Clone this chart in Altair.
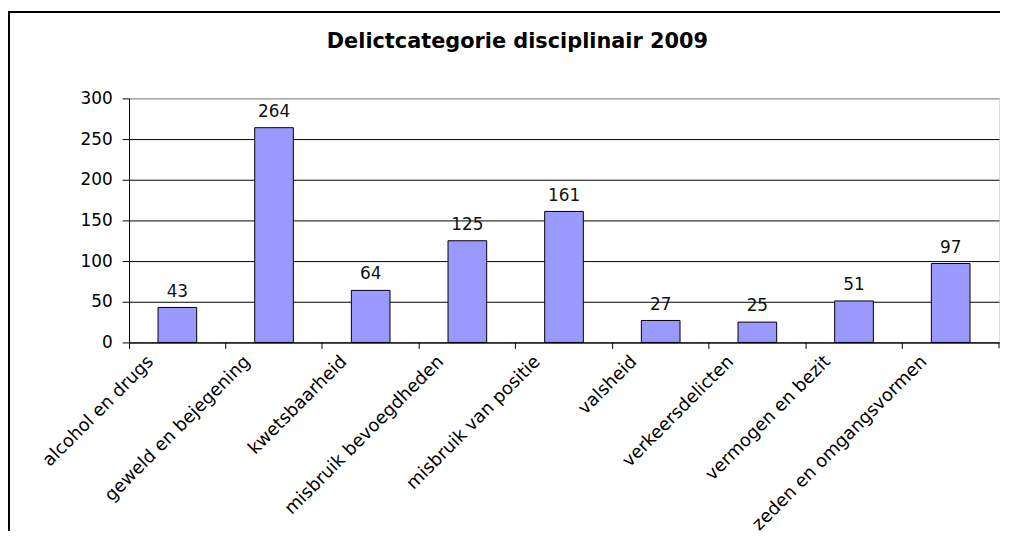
import altair as alt
import pandas as pd

categories = [
    "alcohol en drugs",
    "geweld en bejegening",
    "kwetsbaarheid",
    "misbruik bevoegdheden",
    "misbruik van positie",
    "valsheid",
    "verkeersdelicten",
    "vermogen en bezit",
    "zeden en omgangsvormen",
]
values = [43, 264, 64, 125, 161, 27, 25, 51, 97]
y_ticks = [0, 50, 100, 150, 200, 250, 300]
title_text = "Delictcategorie disciplinair 2009"

df = pd.DataFrame({"categorie": categories, "aantal": values})
one = pd.DataFrame({"k": [0]})

W, H = 877, 246
FONT = "DejaVu Sans"

x_enc = alt.X(
    "categorie:N",
    sort=categories,
    title=None,
    scale=alt.Scale(paddingInner=0, paddingOuter=0),
    axis=alt.Axis(
        bandPosition=0,
        labelAngle=-45,
        labelAlign="right",
        labelBaseline="top",
        labelOffset=-33,
        labelPadding=4,
        tickSize=6,
        tickColor="black",
        domainColor="black",
        labelFont=FONT,
        labelFontSize=18,
        labelColor="black",
        labelLimit=0,
        grid=False,
    ),
)
y_enc = alt.Y(
    "aantal:Q",
    title=None,
    scale=alt.Scale(domain=[0, 300], nice=False),
    axis=alt.Axis(
        values=y_ticks,
        grid=True,
        gridColor={"condition": {"test": "datum.value == 300", "value": "#808080"}, "value": "black"},
        gridWidth=1,
        tickSize=7,
        tickColor="black",
        domainColor="black",
        labelPadding=10,
        labelFont=FONT,
        labelFontSize=17,
        labelColor="black",
    ),
)

bars = alt.Chart(df).mark_bar(
    width=alt.RelativeBandSize(0.4), color="#9999FF", stroke="black", strokeWidth=1
).encode(x=x_enc, y=y_enc)

labels = alt.Chart(df).mark_text(
    dy=-11, baseline="alphabetic", font=FONT, fontSize=17, color="#111111"
).encode(x=x_enc, y=y_enc, text="aantal:Q")

top_rule = alt.Chart(one).mark_rule(color="black", strokeWidth=2).encode(
    x=alt.value(-121), x2=alt.value(878), y=alt.value(-87)
)
left_rule = alt.Chart(one).mark_rule(color="black", strokeWidth=2).encode(
    x=alt.value(-121), y=alt.value(-88), y2=alt.value(436)
)
right_tick = alt.Chart(one).mark_rule(color="black", strokeWidth=1).encode(
    x=alt.value(W), y=alt.value(H), y2=alt.value(H + 6)
)

chart = (
    alt.layer(top_rule, left_rule, bars, labels, right_tick)
    .properties(
        width=W,
        height=H,
        padding=0,
        title=alt.TitleParams(
            text=title_text,
            font=FONT,
            fontSize=21,
            fontWeight="bold",
            color="black",
            anchor="middle",
            dx=-47,
            offset=-42,
        ),
    )
    .configure_view(fill="#C0C0C0", stroke="#808080", strokeWidth=1.5)
    .configure(background="white")
)

chart.save("out.html", embed_options={"renderer": "svg", "actions": False})
